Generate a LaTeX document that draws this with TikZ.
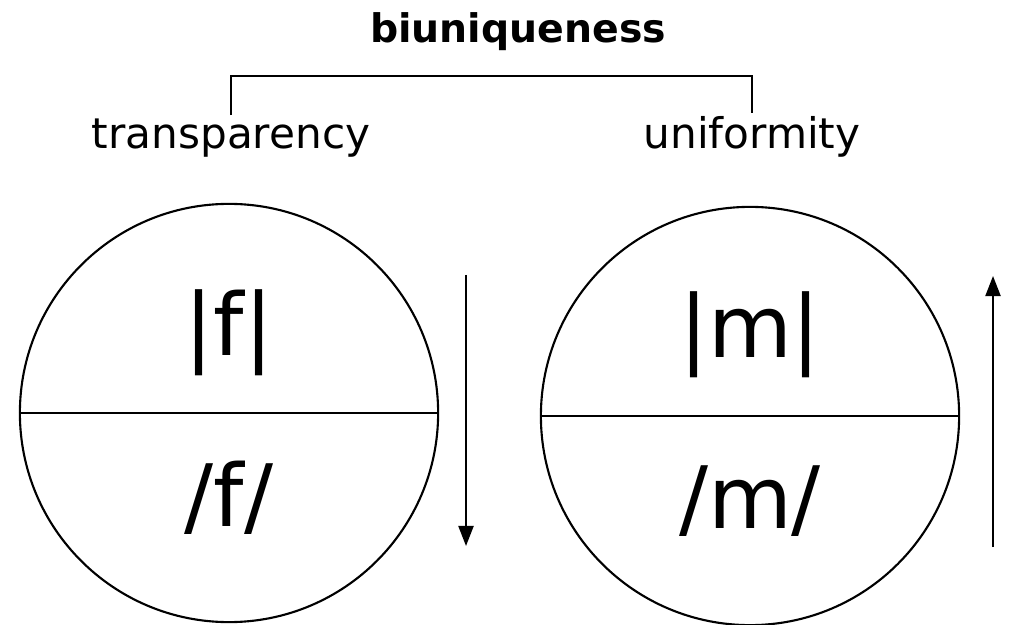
\documentclass[tikz,border=0pt]{standalone}
\usepackage{fontspec}
\setmainfont{DejaVu Sans}
\usetikzlibrary{arrows.meta}
\tikzset{
	word/.style={inner sep=1pt, anchor=base, font=\fontsize{12}{14}\selectfont},
	unit/.style={circle, draw, line width=0.6pt, minimum size=4.18cm, inner sep=0pt},
	sign/.style={inner sep=0pt, anchor=base, font=\fontsize{24.5}{28}\selectfont},
	flow/.style={line width=0.6pt, -{Triangle[length=2mm, width=1.5mm]}}
}

\begin{document}
\begin{tikzpicture}[x=0.01cm, y=-0.01cm]
			%%%%% START %%%%%
			\useasboundingbox (0, 0) rectangle (1010, 625);
			
			\node[word, font=\fontsize{11.2}{13}\selectfont\bfseries] (biu) at (518, 43) {biuniqueness};
			\node[word] (transp) at (231, 149) {transparency};
			\node[word] (unif) at (752, 149) {uniformity};
			\coordinate (bracket) at (491, 76);
			\draw[line width=0.6pt] (transp.north) |- (bracket) -| (unif.north);
			
			\node[unit] (fcirc) at (229, 413) {};
			\draw[line width=0.6pt] (fcirc.west) -- (fcirc.east);
			\node[sign] (fgraph) at (229, 356) {|f|};
			\node[sign] (fphon) at (229, 526) {/f/};
			
			\node[unit] (mcirc) at (750, 416) {};
			\draw[line width=0.6pt] (mcirc.west) -- (mcirc.east);
			\node[sign] (mgraph) at (750, 358) {|m|};
			\node[sign] (mphon) at (750, 528) {/m/};
			
			\coordinate (fdown) at (466, 275);
			\coordinate (fdownend) at (466, 546);
			\draw[flow] (fdown) -- (fdownend);
			
			\coordinate (mup) at (993, 547);
			\coordinate (mupend) at (993, 276);
			\draw[flow] (mup) -- (mupend);
			
			%%%%% END %%%%%
\end{tikzpicture}
\end{document}
